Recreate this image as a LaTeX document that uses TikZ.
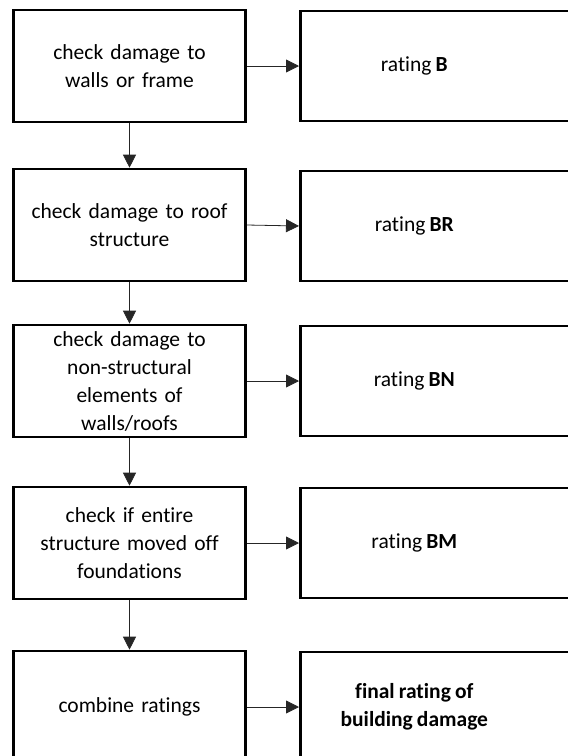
\documentclass[tikz,border=0pt]{standalone}
\usepackage{fontspec}
\setmainfont{Carlito}[Ligatures=NoCommon, WordSpace=0.85]
\usetikzlibrary{arrows.meta}

\begin{document}
\begin{tikzpicture}[x=1pt, y=-1pt,
	every node/.style={font=\fontsize{21.5}{28}\selectfont},
	lbox/.style={draw, line width=2.6pt, minimum width=232pt, minimum height=112pt, text width=228pt, align=center, inner sep=0pt},
	rbox/.style={draw, line width=2.6pt, minimum width=320pt, minimum height=110pt, anchor=west, inner sep=0pt,
		label={[xshift=-46pt, align=center]center:#1}},
	conn/.style={black!85, line width=.8pt, -{Triangle[length=13pt, width=13pt]}}]
	\useasboundingbox (0,0) rectangle (568,756);
	\clip (0,0) rectangle (568,756);
		\node[lbox] (C1) at (129.5,66) {check damage to\\walls or frame};
		\node[rbox={rating \textbf{B}}] (R1) at (299,66) {};
		\node[lbox] (C2) at (129.5,225) {check damage to roof\\structure};
		\node[rbox={rating \textbf{BR}}] (R2) at (299,226) {};
		\node[lbox] (C3) at (129.5,381) {check damage to\\non-structural\\elements of\\walls/roofs};
		\node[rbox={rating \textbf{BN}}] (R3) at (299,381) {};
		\node[lbox] (C4) at (129.5,543) {check if entire\\structure moved off\\foundations};
		\node[rbox={rating \textbf{BM}}] (R4) at (299,543) {};
		\node[lbox] (C5) at (129.5,707) {combine ratings};
		\node[rbox={\textbf{final rating of}\\\textbf{building damage}}] (R5) at (299,707) {};

		\draw[conn] (C1.east) -- (R1.west);
		\draw[conn] (C2.east) -- (R2.west);
		\draw[conn] (C3.east) -- (R3.west);
		\draw[conn] (C4.east) -- (R4.west);
		\draw[conn] (C5.east) -- (R5.west);

		\draw[conn] (C1.south) -- (C2.north);
		\draw[conn] (C2.south) -- (C3.north);
		\draw[conn] (C3.south) -- (C4.north);
		\draw[conn] (C4.south) -- (C5.north);
\end{tikzpicture}
\end{document}
